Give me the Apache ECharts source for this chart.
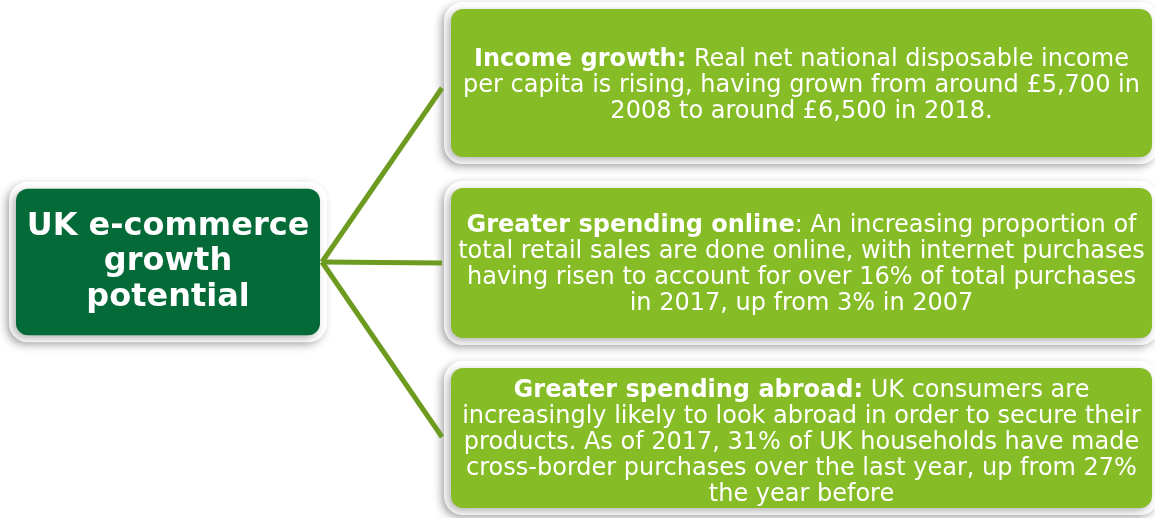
<!DOCTYPE html>
<html>
<head>
<meta charset="utf-8">
<script src="https://cdn.jsdelivr.net/npm/echarts@6/dist/echarts.min.js"></script>
<style>
  html, body { margin: 0; padding: 0; background: #fff; }
  #chart { width: 1155px; height: 518px; }
</style>
</head>
<body>
<div id="chart"></div>
<script>
// texts of the diagram
const centerLines = ['UK e-commerce', 'growth', 'potential'];
const boxHeads = ['Income growth:', 'Greater spending online', 'Greater spending abroad:'];
const boxLines = [
  [' Real net national disposable income', 'per capita is rising, having grown from around £5,700 in', '2008 to around £6,500 in 2018.'],
  [': An increasing proportion of', 'total retail sales are done online, with internet purchases', 'having risen to account for over 16% of total purchases', 'in 2017, up from 3% in 2007'],
  [' UK consumers are', 'increasingly likely to look abroad in order to secure their', 'products. As of 2017, 31% of UK households have made', 'cross-border purchases over the last year, up from 27%', 'the year before']
];

const DARK = '#046A38';
const LIGHT = '#86BC25';
const LINE = '#6C9B1F';
const bodyFont = '"DejaVu Sans", Verdana, sans-serif';

// layout of boxes (centre point, inner width, padding top / bottom)
const boxLayout = [
  { x: 801.5, y: 83, w: 680, padTop: 38, padBottom: 32 },
  { x: 801.5, y: 263, w: 680, padTop: 25, padBottom: 21 },
  { x: 801.5, y: 438, w: 680, padTop: 10, padBottom: 0 }
];
const anchors = [[322, 262], [442, 88], [442, 263], [442, 437]];

const boxNodes = [];
const anchorNodes = [];
const links = [];

const boxShadow = {
  borderColor: '#fff',
  borderWidth: 7,
  borderRadius: 12,
  shadowColor: 'rgba(0,0,0,0.3)',
  shadowBlur: 8,
  shadowOffsetX: -3,
  shadowOffsetY: 3
};

boxNodes.push({
  name: 'center',
  value: [168, 262],
  label: Object.assign({
    show: true,
    position: 'inside',
    formatter: centerLines.join('\n'),
    width: 280,
    align: 'center',
    padding: [24, 12, 16, 12],
    color: '#fff',
    fontFamily: bodyFont,
    fontWeight: 'bold',
    fontSize: 32,
    lineHeight: 35.5,
    backgroundColor: DARK
  }, boxShadow)
});

boxHeads.forEach(function (head, i) {
  const b = boxLayout[i];
  const lines = boxLines[i];
  const text = '{h|' + head + '}{t|' + lines[0] + '}\n' +
    lines.slice(1).map(function (l) { return '{t|' + l + '}'; }).join('\n');
  boxNodes.push({
    name: 'box' + i,
    value: [b.x, b.y],
    label: Object.assign({
      show: true,
      position: 'inside',
      formatter: text,
      width: b.w,
      align: 'center',
      padding: [b.padTop, 10.5, b.padBottom, 10.5],
      backgroundColor: LIGHT,
      rich: {
        h: { color: '#fff', fontFamily: bodyFont, fontWeight: 'bold', fontSize: 24, lineHeight: 26 },
        t: { color: '#fff', fontFamily: bodyFont, fontWeight: 'normal', fontSize: 24, lineHeight: 26 }
      }
    }, boxShadow)
  });
});

anchors.forEach(function (a, i) {
  anchorNodes.push({ name: 'a' + i, value: a });
  if (i > 0) links.push({ source: 'a0', target: 'a' + i });
});

const chart = echarts.init(document.getElementById('chart'));
chart.setOption({
  animation: false,
  grid: { left: 0, right: 0, top: 0, bottom: 0 },
  xAxis: { type: 'value', min: 0, max: 1155, show: false },
  yAxis: { type: 'value', min: 0, max: 518, inverse: true, show: false },
  series: [{
    type: 'graph',
    layout: 'none',
    coordinateSystem: 'cartesian2d',
    silent: true,
    z: 2,
    symbolSize: 0,
    data: boxNodes
  }, {
    type: 'graph',
    layout: 'none',
    coordinateSystem: 'cartesian2d',
    silent: true,
    z: 5,
    symbolSize: 0,
    label: { show: false },
    data: anchorNodes,
    links: links,
    lineStyle: { color: LINE, width: 5, opacity: 1, curveness: 0 }
  }]
});
</script>
</body>
</html>
